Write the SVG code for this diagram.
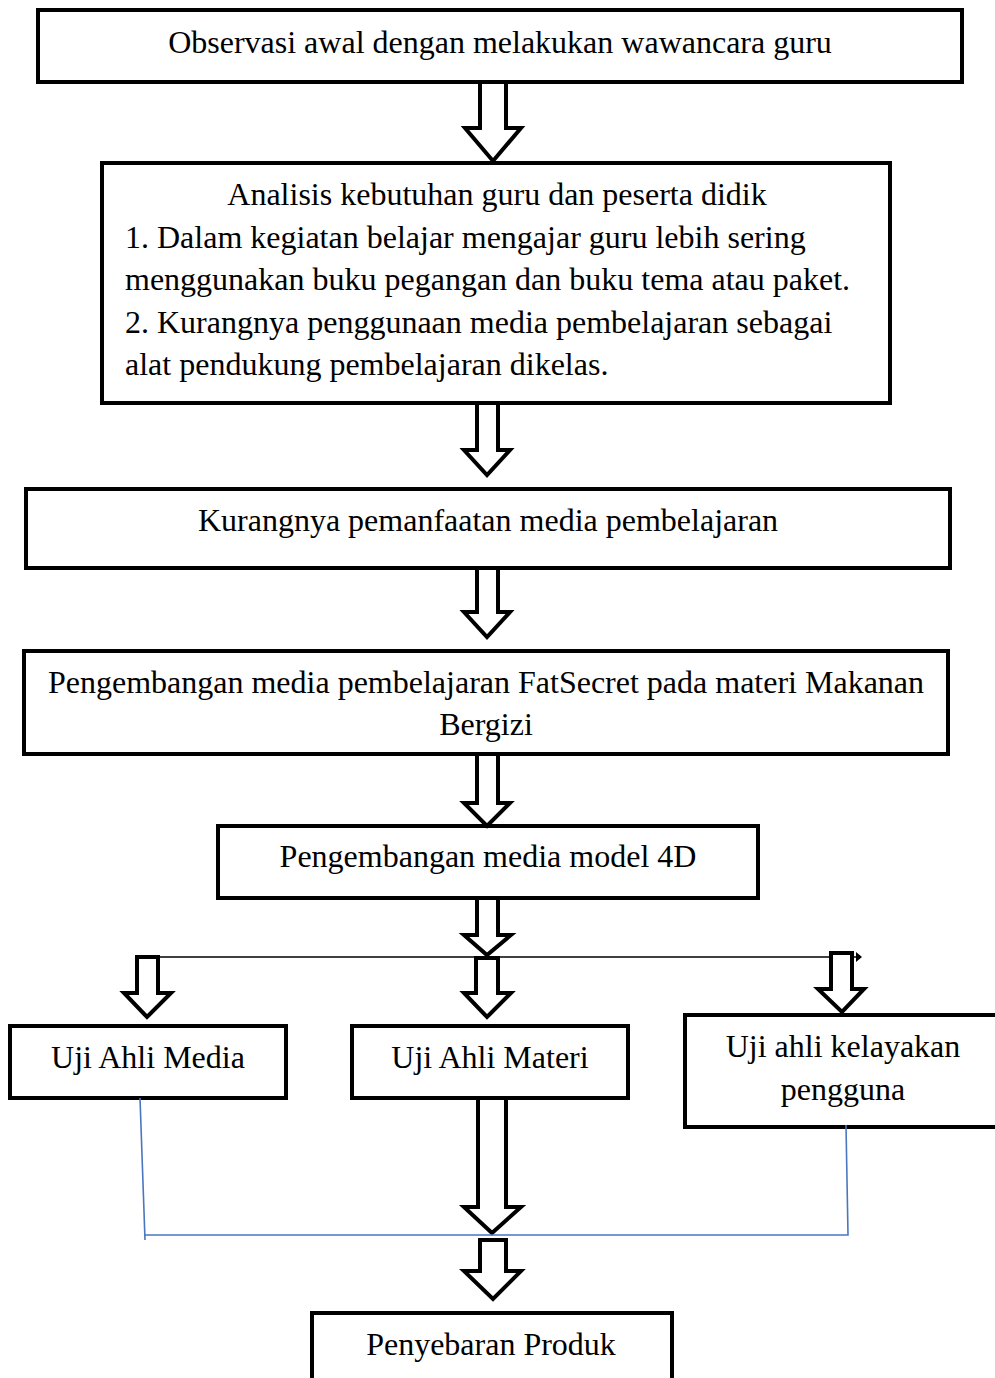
<svg xmlns="http://www.w3.org/2000/svg" width="995" height="1378" viewBox="0 0 995 1378">
<style>
.box{fill:#fff;stroke:#000;stroke-width:4}
.arr{fill:#fff;stroke:#000;stroke-width:4;stroke-linejoin:miter}
.t{font-family:"Liberation Serif","Times New Roman",serif;font-size:32px;fill:#000}
.c{text-anchor:middle}
.blue{fill:none;stroke:#4a76c0;stroke-width:1.6}
.thin{fill:none;stroke:#000;stroke-width:1.5}
</style>
<rect width="995" height="1378" fill="#fff"/>
<g id="n1"><rect class="box" x="38" y="10" width="924" height="72"/><text class="t c" x="500" y="53">Observasi awal dengan melakukan wawancara guru</text></g>
<g id="n2"><rect class="box" x="102" y="163" width="788" height="240"/>
<text class="t c" x="497" y="205">Analisis kebutuhan guru dan peserta didik</text>
<text class="t" x="125" y="248">1. Dalam kegiatan belajar mengajar guru lebih sering</text>
<text class="t" x="125" y="290">menggunakan buku pegangan dan buku tema atau paket.</text>
<text class="t" x="125" y="333">2. Kurangnya penggunaan media pembelajaran sebagai</text>
<text class="t" x="125" y="375">alat pendukung pembelajaran dikelas.</text></g>
<g id="n3"><rect class="box" x="26" y="489" width="924" height="79"/><text class="t c" x="488" y="531">Kurangnya pemanfaatan media pembelajaran</text></g>
<g id="n4"><rect class="box" x="24" y="651" width="924" height="103"/><text class="t c" x="486" y="693">Pengembangan media pembelajaran FatSecret pada materi Makanan</text><text class="t c" x="486" y="735">Bergizi</text></g>
<g id="n5"><rect class="box" x="218" y="826" width="540" height="72"/><text class="t c" x="488" y="867">Pengembangan media model 4D</text></g>
<g id="n6"><rect class="box" x="10" y="1026" width="276" height="72"/><text class="t c" x="148" y="1068">Uji Ahli Media</text></g>
<g id="n7"><rect class="box" x="352" y="1026" width="276" height="72"/><text class="t c" x="490" y="1068">Uji Ahli Materi</text></g>
<g id="n8"><rect class="box" x="685" y="1015" width="320" height="112"/><text class="t c" x="843" y="1057">Uji ahli kelayakan</text><text class="t c" x="843" y="1100">pengguna</text></g>
<g id="n9"><rect class="box" x="312" y="1313" width="360" height="90"/><text class="t c" x="491" y="1355">Penyebaran Produk</text></g>
<g id="connectors">
<polygon class="arr" points="480,82 506,82 506,128 521,128 493,161 465,128 480,128"/>
<polygon class="arr" points="477,403 498,403 498,450 510,450 487,475 464,450 477,450"/>
<polygon class="arr" points="477,568 498,568 498,612 510,612 487,637 464,612 477,612"/>
<polygon class="arr" points="477,754 498,754 498,803 510,803 487,826 464,803 477,803"/>
<polygon class="arr" points="477,898 498,898 498,935 511,935 487,955 464,935 477,935"/>
<polyline class="thin" points="157,957 858,957"/>
<polygon points="856,952 862,957 856,962" fill="#000"/>
<polygon class="arr" points="137,957 158,957 158,993 171,993 147,1017 124,993 137,993"/>
<polygon class="arr" points="476,958 498,958 498,993 511,993 487,1017 464,993 476,993"/>
<polygon class="arr" points="831,953 852,953 852,989 864,989 842,1012 818,989 831,989"/>
<polygon class="arr" points="478,1098 506,1098 506,1207 521,1207 492,1233 464,1207 478,1207"/>
<polygon class="arr" points="480,1240 506,1240 506,1271 521,1271 493,1299 464,1271 480,1271"/>
<polyline class="blue" points="140,1098 145,1240"/>
<polyline class="blue" points="145,1235 848,1235 846,1125"/>
</g>
</svg>
